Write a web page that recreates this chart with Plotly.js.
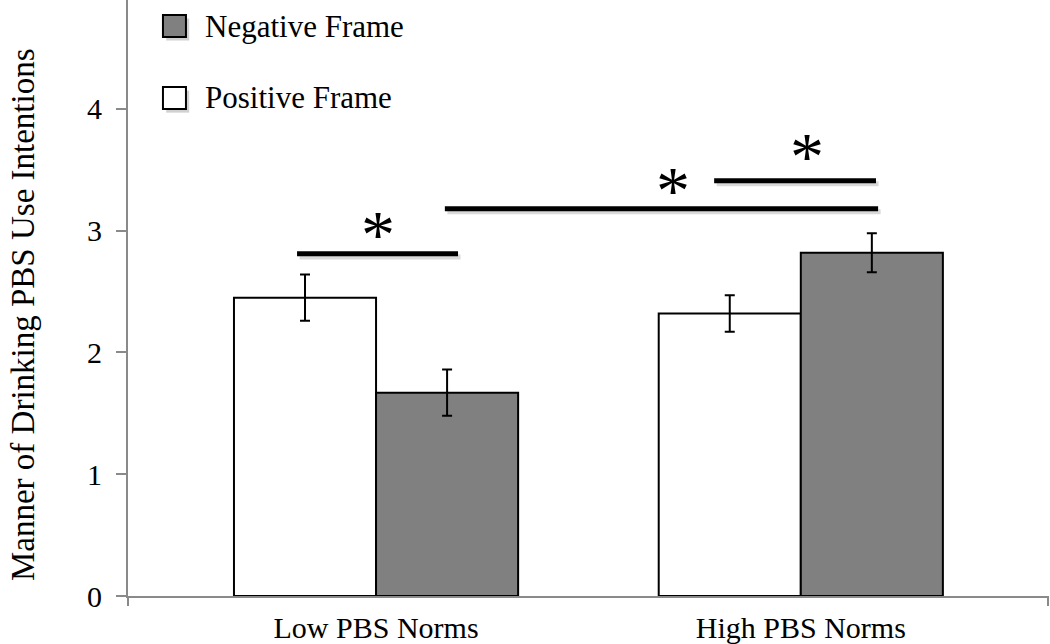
<!DOCTYPE html>
<html>
<head>
<meta charset="utf-8">
<script src="https://cdn.plot.ly/plotly-3.0.1.min.js"></script>
<style>html,body{margin:0;padding:0;background:#fff;}#chart{width:1050px;height:644px;}</style>
</head>
<body>
<div id="chart"></div>
<script>
const categories = ['Low PBS Norms', 'High PBS Norms'];
const seriesNames = ['Positive Frame', 'Negative Frame'];
const positiveValues = [2.45, 2.32];
const positiveErrors = [0.19, 0.15];
const negativeValues = [1.67, 2.82];
const negativeErrors = [0.19, 0.16];
const yTickValues = [0, 1, 2, 3, 4];
const yTitle = 'Manner of Drinking PBS Use Intentions';

const FONT = 'Liberation Serif, Times New Roman, serif';
const AXIS = '#8a8a8a';

const traces = [
  {
    type: 'bar', name: seriesNames[0], x: categories, y: positiveValues,
    marker: {color: '#ffffff', line: {color: '#000000', width: 2}},
    error_y: {type: 'data', array: positiveErrors, visible: true, color: '#000000', thickness: 2, width: 5},
    showlegend: false, hoverinfo: 'skip'
  },
  {
    type: 'bar', name: seriesNames[1], x: categories, y: negativeValues,
    marker: {color: '#808080', line: {color: '#000000', width: 2}},
    error_y: {type: 'data', array: negativeErrors, visible: true, color: '#000000', thickness: 2, width: 5},
    showlegend: false, hoverinfo: 'skip'
  }
];

// significance bars (x in category units, y in data units)
const sigLines = [
  {x0: -0.186, x1: 0.193, y: 2.81},
  {x0: 0.162, x1: 1.182, y: 3.18},
  {x0: 0.796, x1: 1.177, y: 3.41}
];
const stars = [
  {x: 0.005, y: 3.055},
  {x: 0.699, y: 3.42},
  {x: 1.015, y: 3.70}
];

const shapes = [];
sigLines.forEach(s => {
  shapes.push({type: 'line', xref: 'x', yref: 'y', x0: s.x0 + 0.006, x1: s.x1 + 0.006, y0: s.y - 0.025, y1: s.y - 0.025,
    line: {color: 'rgba(0,0,0,0.15)', width: 5}});
  shapes.push({type: 'line', xref: 'x', yref: 'y', x0: s.x0, x1: s.x1, y0: s.y, y1: s.y,
    line: {color: '#000000', width: 5}});
});
// axis extensions (category boundary ticks)
shapes.push({type: 'line', xref: 'paper', yref: 'paper', x0: 0, x1: 0, y0: 0, y1: -10/596, line: {color: AXIS, width: 2}});
shapes.push({type: 'line', xref: 'paper', yref: 'paper', x0: 1, x1: 1, y0: 0, y1: -10/596, line: {color: AXIS, width: 2}});

// legend boxes
const legendItems = [
  {name: seriesNames[1], color: '#808080', y0: 0.938, y1: 0.975, ty: 0.955},
  {name: seriesNames[0], color: '#ffffff', y0: 0.817, y1: 0.854, ty: 0.836}
];
const annotations = [];
legendItems.forEach(it => {
  shapes.push({type: 'rect', xref: 'paper', yref: 'paper', x0: 0.0415, x1: 0.0665, y0: it.y0 - 0.006, y1: it.y1 - 0.006,
    line: {width: 0}, fillcolor: 'rgba(0,0,0,0.18)'});
  shapes.push({type: 'rect', xref: 'paper', yref: 'paper', x0: 0.038, x1: 0.063, y0: it.y0, y1: it.y1,
    line: {color: '#000000', width: 2}, fillcolor: it.color});
  annotations.push({xref: 'paper', yref: 'paper', x: 0.0815, y: it.ty, xanchor: 'left', yanchor: 'middle',
    text: it.name, showarrow: false, font: {family: FONT, size: 31, color: '#000000'}});
});
stars.forEach(s => {
  annotations.push({xref: 'x', yref: 'y', x: s.x, y: s.y, xanchor: 'center', yanchor: 'middle',
    text: '*', showarrow: false, font: {family: 'Liberation Serif', size: 68, color: '#000000'}, yshift: -10});
});
// y-axis title (placed as annotation to match the reference's vertical centring)
annotations.push({xref: 'paper', yref: 'paper', x: -0.1141, y: 0.4715, xanchor: 'center', yanchor: 'middle',
  textangle: -90, text: yTitle, showarrow: false, borderpad: 0,
  font: {family: FONT, size: 33, color: '#000000'}});

const layout = {
  width: 1050, height: 644,
  margin: {l: 128, r: 2, t: 0, b: 48, pad: 0},
  paper_bgcolor: '#ffffff', plot_bgcolor: '#ffffff',
  barmode: 'group', bargap: 0.331, bargroupgap: 0,
  font: {family: FONT, color: '#000000'},
  xaxis: {
    type: 'category', range: [-0.584, 1.582], fixedrange: true,
    showline: true, linecolor: AXIS, linewidth: 2, showgrid: false, zeroline: false,
    ticks: '', ticklabelstandoff: 4, tickfont: {family: FONT, size: 30, color: '#000000'}
  },
  yaxis: {
    range: [0, 4.895], tickvals: yTickValues, ticktext: yTickValues.map(String), fixedrange: true,
    showline: true, linecolor: AXIS, linewidth: 2, showgrid: false, zeroline: false,
    ticks: 'outside', ticklen: 10, tickwidth: 2, tickcolor: AXIS, ticklabelstandoff: 8,
    tickfont: {family: FONT, size: 30, color: '#000000'}
  },
  shapes: shapes,
  annotations: annotations,
  showlegend: false
};

Plotly.newPlot('chart', traces, layout, {staticPlot: true, displayModeBar: false});
</script>
</body>
</html>
